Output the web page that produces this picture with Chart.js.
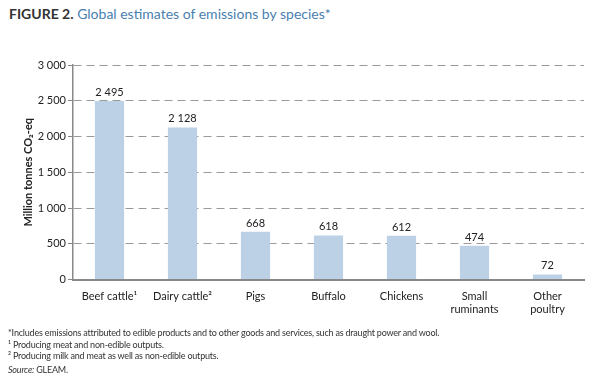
<!DOCTYPE html>
<html><head><meta charset="utf-8">
<script src="https://cdn.jsdelivr.net/npm/chart.js@4/dist/chart.umd.min.js"></script>
<style>
html,body{margin:0;padding:0;background:#fff;}
#wrap{position:relative;width:590px;height:377px;overflow:hidden;font-family:Lato,"Open Sans",sans-serif;}
#title{position:absolute;left:9px;top:5px;font-size:14px;color:#4a80ae;white-space:nowrap;}
#title b{color:#333;font-weight:700;}
#chartbox{position:absolute;left:0;top:0;width:590px;height:330px;}
.fn{position:absolute;left:8px;font-size:9px;color:#333;white-space:nowrap;letter-spacing:-0.2px;}
</style></head>
<body><div id="wrap">
<div id="title"><b>FIGURE 2.</b> Global estimates of emissions by species*</div>
<div id="chartbox"><canvas id="c" width="590" height="330"></canvas></div>
<div class="fn" style="top:327px">*Includes emissions attributed to edible products and to other goods and services, such as draught power and wool.</div>
<div class="fn" style="top:339px">¹ Producing meat and non-edible outputs.</div>
<div class="fn" style="top:350px">² Producing milk and meat as well as non-edible outputs.</div>
<div class="fn" style="top:364px"><i>Source:</i> GLEAM.</div>
</div>
<script>
const categories = [["Beef cattle¹"], ["Dairy cattle²"], ["Pigs"], ["Buffalo"], ["Chickens"], ["Small","ruminants"], ["Other","poultry"]];
const emissions = [2495, 2128, 668, 618, 612, 474, 72];
const yTicks = [0, 500, 1000, 1500, 2000, 2500, 3000];

function fmt(v){ const s = String(v); return s.length > 3 ? s.slice(0, s.length-3) + " " + s.slice(-3) : s; }
const FONT = 'Lato, "Open Sans", sans-serif';

const labelPlugin = {
  id: 'valueLabels',
  afterDatasetsDraw(chart){
    const ctx = chart.ctx;
    const meta = chart.getDatasetMeta(0);
    ctx.save();
    ctx.font = '11px ' + FONT;
    ctx.fillStyle = '#222';
    ctx.textAlign = 'center';
    ctx.textBaseline = 'bottom';
    meta.data.forEach((el, i) => {
      ctx.fillText(fmt(emissions[i]), el.x, el.y - 3);
    });
    ctx.restore();
  }
};

new Chart(document.getElementById('c'), {
  type: 'bar',
  data: { labels: categories, datasets: [{ data: emissions, backgroundColor: '#bcd1e5', categoryPercentage: 1, barPercentage: 0.4 }] },
  options: {
    responsive: false, animation: false,
    layout: { padding: { top: 65, right: 6, left: 22, bottom: 4 } },
    plugins: { legend: { display: false }, tooltip: { enabled: false } },
    scales: {
      x: {
        grid: { display: false, drawTicks: false },
        border: { color: '#888', width: 2 },
        ticks: { color: '#222', font: { size: 11, family: FONT }, padding: 10, maxRotation: 0, autoSkip: false }
      },
      y: {
        min: 0, max: 3000,
        afterBuildTicks(axis){ axis.ticks = yTicks.map(v => ({ value: v })); },
        afterFit(axis){ axis.width = 51; },
        grid: { color: '#9a9a9a', lineWidth: 1, tickLength: 5, tickColor: '#888', tickBorderDash: [] },
        border: { color: '#888', width: 1.5, dash: [8, 5] },
        ticks: { color: '#222', font: { size: 11, family: FONT }, padding: 2, callback: v => fmt(v) },
        title: { display: true, text: 'Million tonnes CO₂-eq', color: '#222', font: { size: 11, weight: 'bold', family: FONT }, padding: { top: 0, bottom: 4 } }
      }
    }
  },
  plugins: [labelPlugin]
});
</script>
</body></html>
